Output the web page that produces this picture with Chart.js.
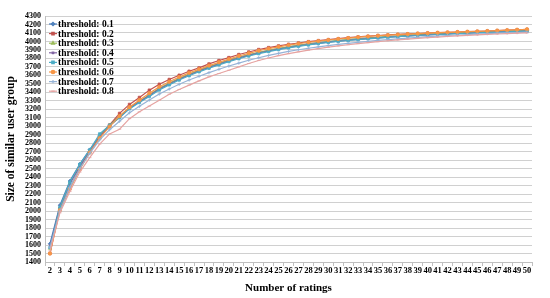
<!DOCTYPE html>
<html>
<head>
<meta charset="utf-8">
<script src="https://cdn.jsdelivr.net/npm/chart.js@4/dist/chart.umd.min.js"></script>
<style>
  html, body { margin: 0; padding: 0; background: #fff; }
  #wrap { width: 550px; height: 298px; }
</style>
</head>
<body>
<div id="wrap"><canvas id="myChart" width="550" height="298"></canvas></div>
<script>
const categories = ['2','3','4','5','6','7','8','9','10','11','12','13','14','15','16','17','18','19','20','21','22','23','24','25','26','27','28','29','30','31','32','33','34','35','36','37','38','39','40','41','42','43','44','45','46','47','48','49','50'];

const seriesLabels = ['threshold: 0.1','threshold: 0.2','threshold: 0.3','threshold: 0.4','threshold: 0.5','threshold: 0.6','threshold: 0.7','threshold: 0.8'];

const t01 = [1615,2070,2355,2555,2725,2890,3010,3110,3220,3290,3365,3445,3505,3562,3610,3660,3700,3740,3779,3812,3843,3870,3895,3917,3937,3955,3971,3986,3999,4011,4022,4032,4041,4049,4057,4064,4071,4077,4083,4088,4093,4098,4102,4106,4110,4114,4118,4122,4126];
const t02 = [1500,2030,2275,2505,2700,2880,3015,3152,3258,3340,3426,3496,3552,3602,3649,3688,3735,3775,3810,3846,3876,3905,3928,3948,3967,3982,3998,4010,4022,4033,4044,4054,4062,4070,4077,4083,4089,4094,4099,4103,4107,4111,4115,4119,4123,4128,4133,4138,4143];
const t03 = [1560,2040,2330,2535,2712,2885,3012,3118,3222,3296,3370,3447,3507,3564,3612,3660,3700,3740,3778,3811,3842,3869,3894,3916,3936,3954,3970,3985,3998,4010,4021,4031,4040,4049,4057,4064,4071,4078,4084,4090,4095,4100,4105,4110,4114,4118,4122,4126,4130];
const t04 = [1590,2050,2320,2525,2705,2875,3005,3110,3212,3288,3362,3438,3498,3555,3604,3652,3692,3732,3770,3803,3835,3862,3887,3909,3929,3947,3963,3978,3991,4003,4014,4024,4033,4042,4050,4058,4065,4072,4078,4084,4089,4094,4099,4104,4108,4112,4116,4120,4124];
const t05 = [1570,2045,2340,2550,2720,2910,3012,3100,3205,3280,3352,3428,3488,3545,3595,3642,3684,3724,3762,3796,3828,3856,3881,3904,3924,3943,3959,3974,3988,4000,4011,4021,4031,4040,4048,4056,4063,4070,4076,4082,4087,4092,4097,4102,4106,4110,4114,4118,4121];
const t06 = [1500,2010,2260,2490,2690,2860,2995,3120,3225,3310,3390,3465,3525,3580,3630,3672,3715,3755,3792,3828,3860,3890,3915,3937,3957,3974,3990,4004,4017,4029,4040,4050,4059,4067,4074,4081,4087,4093,4098,4103,4107,4111,4115,4119,4123,4128,4133,4138,4143];
const t07 = [1570,2000,2280,2500,2680,2840,2960,3060,3160,3235,3310,3380,3440,3495,3545,3590,3632,3672,3710,3745,3778,3808,3835,3860,3882,3902,3920,3936,3951,3965,3978,3990,4001,4012,4022,4031,4040,4048,4056,4063,4070,4076,4082,4087,4092,4097,4101,4105,4109];
const t08 = [1530,1980,2230,2460,2630,2790,2910,2965,3090,3170,3238,3308,3378,3434,3485,3535,3583,3622,3661,3700,3740,3775,3805,3832,3856,3878,3898,3916,3932,3947,3961,3974,3986,3997,4008,4018,4027,4036,4044,4052,4059,4066,4072,4078,4083,4088,4093,4097,4101];

const seriesValues = [t01, t02, t03, t04, t05, t06, t07, t08];
const colors = ['#4F81BD','#C0504D','#9BBB59','#8064A2','#4BACC6','#F79646','#95B3D7','#E6A3A1'];
const markers = ['rectRot','rect','triangle','crossRot','rect','circle','cross','line'];

const serif = "'Liberation Serif', 'Times New Roman', serif";

// legend drawn inside the plot, Excel style (line + marker + bold text)
const insideLegend = {
    id: 'insideLegend',
    afterDraw(chart) {
        const ctx = chart.ctx;
        ctx.save();
        ctx.font = "bold 9.5px " + serif;
        ctx.textBaseline = 'middle';
        chart.data.datasets.forEach((ds, i) => {
            const y = 24 + i * 9.6;
            ctx.strokeStyle = ds.borderColor;
            ctx.lineWidth = 1.2;
            ctx.beginPath();
            ctx.moveTo(49, y);
            ctx.lineTo(57, y);
            ctx.stroke();
            ctx.fillStyle = ds.borderColor;
            Chart.helpers.drawPoint(ctx, {
                pointStyle: ds.pointStyle, radius: 1.7, borderWidth: 1
            }, 53, y);
            ctx.fillStyle = '#000';
            ctx.fillText(ds.label, 58, y + 0.5);
        });
        ctx.restore();
    }
};

const ctx = document.getElementById('myChart').getContext('2d');
new Chart(ctx, {
    type: 'line',
    data: {
        labels: categories,
        datasets: seriesValues.map((vals, i) => ({
            label: seriesLabels[i],
            data: vals,
            borderColor: colors[i],
            backgroundColor: colors[i],
            borderWidth: 1.2,
            pointStyle: markers[i],
            pointRadius: 1.7,
            pointBorderWidth: 0.8,
            tension: 0,
            fill: false,
            order: seriesValues.length - i
        }))
    },
    options: {
        responsive: false,
        animation: false,
        devicePixelRatio: 1,
        layout: {
            padding: { top: 16, right: 18, left: 0, bottom: 0 }
        },
        plugins: {
            legend: { display: false },
            tooltip: { enabled: false }
        },
        scales: {
            x: {
                offset: true,
                grid: {
                    offset: true,
                    drawOnChartArea: false,
                    tickLength: 4,
                    color: '#bfbfbf'
                },
                border: { color: '#bfbfbf' },
                ticks: {
                    autoSkip: false,
                    maxRotation: 0,
                    padding: 0,
                    color: '#000',
                    font: { family: serif, size: 8.5, weight: 'bold' }
                },
                title: {
                    display: true,
                    text: 'Number of ratings',
                    color: '#000',
                    font: { family: serif, size: 11, weight: 'bold' },
                    padding: { top: 0, bottom: 3 }
                },
                afterFit(scale) { scale.height = 36; }
            },
            y: {
                min: 1400,
                max: 4300,
                grid: {
                    drawTicks: false,
                    color: '#d0d0d0'
                },
                border: { color: '#bfbfbf' },
                ticks: {
                    stepSize: 100,
                    autoSkip: false,
                    padding: 4,
                    color: '#000',
                    font: { family: serif, size: 8, weight: 'bold' },
                    callback: (v) => String(v)
                },
                title: {
                    display: true,
                    text: 'Size of similar user group',
                    color: '#000',
                    font: { family: serif, size: 11.5, weight: 'bold' },
                    padding: { top: 4, bottom: 0 }
                },
                afterFit(scale) { scale.width = 45; }
            }
        }
    },
    plugins: [insideLegend]
});
</script>
</body>
</html>
